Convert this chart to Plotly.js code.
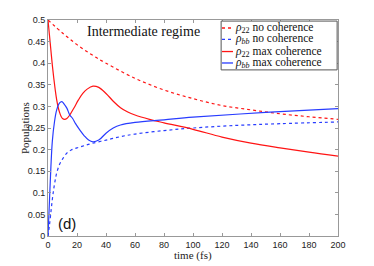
<!DOCTYPE html>
<html>
<head>
<meta charset="utf-8">
<script src="https://cdn.plot.ly/plotly-3.0.1.min.js"></script>
<style>html,body{margin:0;padding:0;background:#fff;}#chart{width:374px;height:266px;}</style>
</head>
<body>
<div id="chart"></div>
<script>
// rho22, no coherence (red dotted)
const t_r22_nc = [0, 10, 20, 30, 40, 60, 80, 100, 120, 140, 160, 180, 200];
const r22_nc   = [0.5, 0.47, 0.443, 0.42, 0.4, 0.365, 0.338, 0.318, 0.302, 0.292, 0.283, 0.276, 0.27];
// rho_bb, no coherence (blue dotted)
const t_rbb_nc = [0, 1, 2, 3, 4, 5, 6, 8, 10, 13, 16, 20, 25, 30, 40, 50, 60, 80, 100, 130, 160, 200];
const rbb_nc   = [0, 0.025, 0.055, 0.085, 0.11, 0.13, 0.146, 0.166, 0.178, 0.192, 0.199, 0.204, 0.209, 0.214, 0.222, 0.23, 0.236, 0.244, 0.25, 0.256, 0.26, 0.264];
// rho22, max coherence (red solid)
const t_r22_mc = [0, 1, 2, 3, 4, 5, 6, 7, 8, 9, 10, 11.5, 13, 15, 18, 21, 24, 27, 31, 35, 40, 45, 50, 55, 60, 70, 80, 100, 120, 140, 160, 180, 200];
const r22_mc   = [0.5, 0.465, 0.43, 0.395, 0.365, 0.338, 0.315, 0.298, 0.286, 0.277, 0.272, 0.27, 0.272, 0.28, 0.297, 0.315, 0.33, 0.34, 0.347, 0.344, 0.33, 0.312, 0.297, 0.287, 0.28, 0.27, 0.262, 0.247, 0.229, 0.215, 0.204, 0.194, 0.185];
// rho_bb, max coherence (blue solid)
const t_rbb_mc = [0, 1, 2, 3, 4.5, 6, 8, 9.5, 11, 13, 15, 17, 19, 22, 25, 28, 31, 35, 40, 45, 50, 60, 80, 100, 150, 200];
const rbb_mc   = [0, 0.08, 0.16, 0.22, 0.265, 0.292, 0.308, 0.311, 0.306, 0.296, 0.28, 0.272, 0.26, 0.245, 0.232, 0.222, 0.218, 0.222, 0.238, 0.25, 0.257, 0.263, 0.269, 0.275, 0.286, 0.295];

const legendLabels = [
  '<i>ρ</i><sub>22</sub> no coherence',
  '<i>ρ</i><sub><i>bb</i></sub> no coherence',
  '<i>ρ</i><sub>22</sub> max coherence',
  '<i>ρ</i><sub><i>bb</i></sub> max coherence'
];
const titleText = 'Intermediate regime';
const panelLabel = '(d)';
const xTitle = 'time (fs)';
const yTitle = 'Populations';

const RED = 'rgb(255,20,20)';
const BLUE = 'rgb(40,60,255)';
const serif = 'Liberation Serif';
const sans = 'Liberation Sans';

const traces = [
  {x: t_r22_nc, y: r22_nc, mode: 'lines', line: {color: RED, width: 1.2, dash: 'dot', shape: 'spline'}},
  {x: t_rbb_nc, y: rbb_nc, mode: 'lines', line: {color: BLUE, width: 1.2, dash: 'dot', shape: 'spline'}},
  {x: t_r22_mc, y: r22_mc, mode: 'lines', line: {color: RED, width: 1.2, shape: 'spline'}},
  {x: t_rbb_mc, y: rbb_mc, mode: 'lines', line: {color: BLUE, width: 1.2, shape: 'spline'}}
];

const legendColors = [RED, BLUE, RED, BLUE];
const legendDash = ['dot', 'dot', 'solid', 'solid'];
const rowY = [0.963, 0.910, 0.854, 0.801];

const shapes = [
  {type: 'rect', xref: 'paper', yref: 'paper', x0: 0.597, x1: 0.997, y0: 0.769, y1: 0.995,
   line: {color: '#555', width: 1}, fillcolor: 'rgba(255,255,255,1)', layer: 'above'}
];
const annotations = [
  {xref: 'paper', yref: 'paper', x: 0.128, y: 0.949, xanchor: 'left', yanchor: 'middle',
   text: titleText, showarrow: false, font: {family: serif, size: 14, color: '#111'}},
  {xref: 'paper', yref: 'paper', x: 0.028, y: 0.06, xanchor: 'left', yanchor: 'middle',
   text: panelLabel, showarrow: false, font: {family: sans, size: 15, color: '#111'}},
  {xref: 'paper', yref: 'paper', x: 0.5, y: -0.09, xanchor: 'center', yanchor: 'middle',
   text: xTitle, showarrow: false, borderpad: 0, font: {family: serif, size: 11, color: '#222'}},
  {xref: 'paper', yref: 'paper', x: -0.079, y: 0.5, xanchor: 'center', yanchor: 'middle', textangle: -90,
   text: yTitle, showarrow: false, font: {family: serif, size: 11, color: '#222'}}
];
legendLabels.forEach((lab, i) => {
  shapes.push({type: 'line', xref: 'paper', yref: 'paper', x0: 0.600, x1: 0.638, y0: rowY[i], y1: rowY[i],
    line: {color: legendColors[i], width: 1.3, dash: legendDash[i]}, layer: 'above'});
  annotations.push({xref: 'paper', yref: 'paper', x: 0.641, y: rowY[i], xanchor: 'left', yanchor: 'middle',
    text: lab, showarrow: false, borderpad: 0, font: {family: serif, size: 11.5, color: '#111'}});
});

const axisCommon = {
  showline: true, mirror: 'ticks', linecolor: '#999', linewidth: 1,
  ticks: 'inside', ticklen: 3, tickcolor: '#999', showgrid: false, zeroline: false,
  tickfont: {family: sans, size: 9, color: '#222'}
};

const layout = {
  width: 374, height: 266,
  margin: {l: 48, r: 36, t: 20, b: 30},
  paper_bgcolor: '#fff', plot_bgcolor: '#fff',
  showlegend: false,
  font: {family: serif},
  xaxis: Object.assign({}, axisCommon, {range: [0, 200], dtick: 20, tick0: 0}),
  yaxis: Object.assign({}, axisCommon, {range: [0, 0.5], dtick: 0.05, tick0: 0}),
  shapes: shapes,
  annotations: annotations
};

Plotly.newPlot('chart', traces, layout, {displayModeBar: false, staticPlot: true});
</script>
</body>
</html>
